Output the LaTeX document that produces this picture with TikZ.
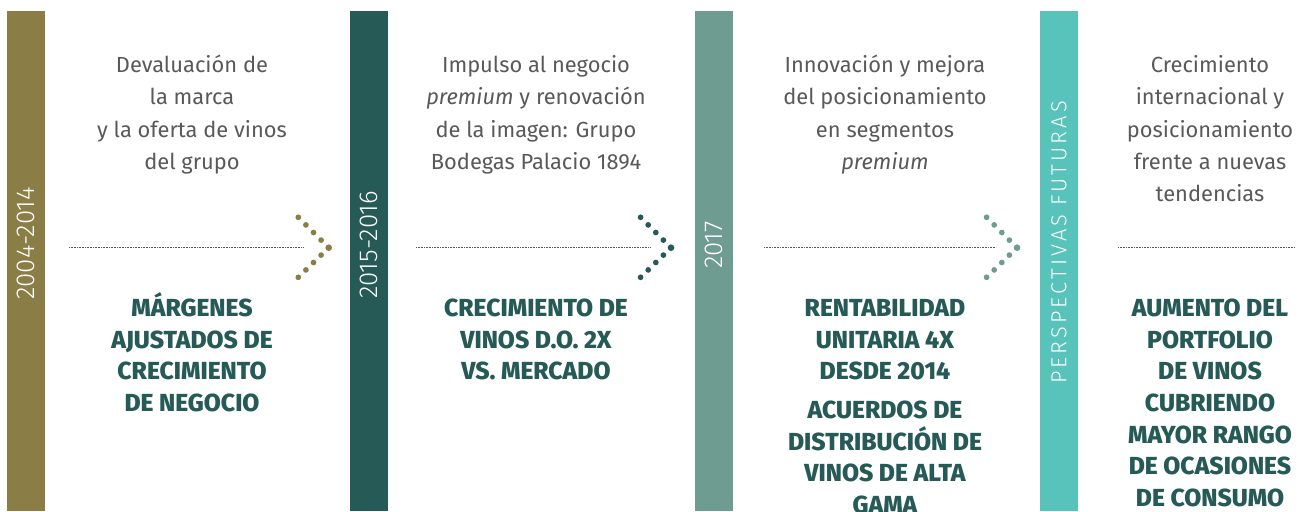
\documentclass[tikz,border=0pt]{standalone}
\usepackage{fontspec}
\setmainfont{Fira Sans}
\newfontfamily\heavyfont{Fira Sans ExtraBold}
\newfontfamily\lightfont{Fira Sans Light}
\definecolor{olive}{HTML}{8B7D46}
\definecolor{darkteal}{HTML}{255A57}
\definecolor{sage}{HTML}{6F9C91}
\definecolor{aqua}{HTML}{57C3BA}
\definecolor{descgray}{HTML}{58595B}
\definecolor{linegray}{HTML}{555555}
\newcommand{\dstrut}{\rule{0pt}{14pt}}
\newcommand{\rstrut}{\rule{0pt}{18pt}}
\begin{document}
\begin{tikzpicture}[x=0.75pt,y=-0.75pt,
  bar/.style={fill=#1, draw=none, minimum width=28.5pt, minimum height=375pt, inner sep=0pt, anchor=north west},
  vlabel/.style={rotate=90, text=white, inner sep=0pt, font=\lightfont\fontsize{19.4}{20}\selectfont},
  desc/.style={align=center, text=descgray, inner sep=0pt, anchor=north, font=\fontsize{16.4}{24.3}\selectfont},
  res/.style={align=center, text=darkteal, inner sep=0pt, anchor=north, font=\heavyfont\fontsize{18.5}{23.8}\selectfont},
  dot/.style={circle, fill=#1, draw=none, inner sep=0pt, minimum size=4.3pt},
  tipdot/.style={circle, fill=#1, draw=none, inner sep=0pt, minimum size=5pt},
  conn/.style={draw=linegray, line width=0.6pt, dash pattern=on 0.6pt off 0.6pt}
]
\useasboundingbox (0,0) rectangle (1309,511);
\clip (0,0) rectangle (1309,511);
\fill[white] (0,0) rectangle (1309,511);
% bars
\node[bar=olive] (b1) at (7,11) {};
\node[bar=darkteal] (b2) at (350,11) {};
\node[bar=sage] (b3) at (695,11) {};
\node[bar=aqua] (b4) at (1040,11) {};
% vertical labels
\node[vlabel] (v1) at (26,243.5) {2004-2014};
\node[vlabel] (v2) at (369,245) {2015-2016};
\node[vlabel] (v3) at (714,245) {2017};
\node[vlabel, font=\lightfont\fontsize{16.3}{17}\selectfont] (v4) at (1059,242.5) {\addfontfeature{LetterSpace=14}PERSPECTIVAS FUTURAS};
% descriptions
\node[desc] (d1) at (192,53.3) {\dstrut Devaluación de\\la marca\\y la oferta de vinos\\del grupo};
\node[desc] (d2) at (536,53.3) {\dstrut Impulso al negocio\\\textit{premium} y renovación\\de la imagen: Grupo\\Bodegas Palacio 1894};
\node[desc] (d3) at (885,53.3) {\dstrut Innovación y mejora\\del posicionamiento\\en segmentos\\\textit{premium}};
\node[desc] (d4) at (1210,53.3) {\dstrut Crecimiento\\internacional y\\posicionamiento\\frente a nuevas\\tendencias};
% results
\node[res] (r1) at (192,292) {\rstrut MÁRGENES\\AJUSTADOS DE\\CRECIMIENTO\\DE NEGOCIO};
\node[res] (r2) at (536,292) {\rstrut CRECIMIENTO DE\\VINOS D.O. 2X\\VS. MERCADO};
\node[res] (r3a) at (885,292) {\rstrut RENTABILIDAD\\UNITARIA 4X\\DESDE 2014};
\node[res] (r3b) at (885,394) {\rstrut ACUERDOS DE\\DISTRIBUCIÓN DE\\VINOS DE ALTA\\GAMA};
\node[res] (r4) at (1210,292) {\rstrut AUMENTO DEL\\PORTFOLIO\\DE VINOS\\CUBRIENDO\\MAYOR RANGO\\DE OCASIONES\\DE CONSUMO};
% dotted connectors
\coordinate (l1s) at (69,247.5);  \coordinate (l1e) at (303,247.5);
\coordinate (l2s) at (416,247.5); \coordinate (l2e) at (650,247.5);
\coordinate (l3s) at (764,247.5); \coordinate (l3e) at (996,247.5);
\coordinate (l4s) at (1118,247.5); \coordinate (l4e) at (1295,247.5);
\draw[conn] (l1s) -- (l1e);
\draw[conn] (l2s) -- (l2e);
\draw[conn] (l3s) -- (l3e);
\draw[conn] (l4s) -- (l4e);
% chevrons of dots
\foreach \tx/\c/\n in {328.7/olive/a, 671/darkteal/b, 1017/sage/c}{
  \node[tipdot=\c] (t\n0) at (\tx,247.7) {};
  \foreach \k in {1,2,3,4}{
    \node[dot=\c] (t\n u\k) at (\tx-7.6*\k,247.7-7.6*\k) {};
    \node[dot=\c] (t\n d\k) at (\tx-7.6*\k,247.7+7.4*\k) {};
  }
}
\end{tikzpicture}
\end{document}
